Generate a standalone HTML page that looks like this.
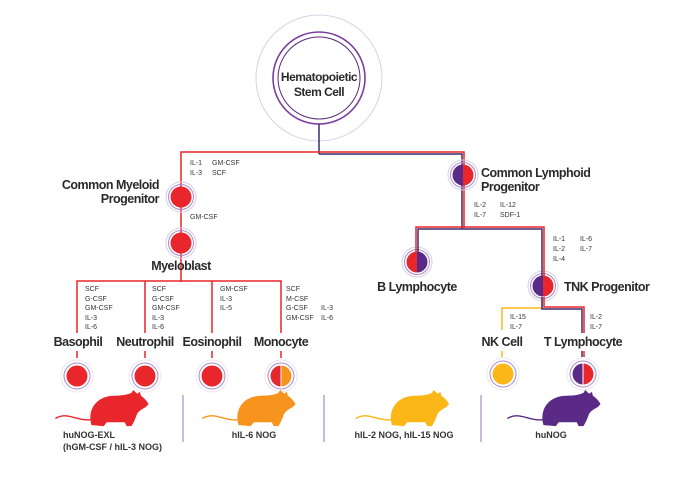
<!DOCTYPE html>
<html><head><meta charset="utf-8"><style>
html,body{margin:0;padding:0;background:#fff;}
svg{display:block;font-family:"Liberation Sans",sans-serif;}
.t{font-size:7px;fill:#333;}
.L{font-size:12.5px;font-weight:bold;fill:#2a2a2a;letter-spacing:-0.5px;}
.m{font-size:9px;font-weight:bold;fill:#333;}
</style></head><body>
<svg width="696" height="477" viewBox="0 0 696 477">
<defs>
<symbol id="mouse" viewBox="0 0 100 40">
<path d="M2,30 C15,22 25,34 42,31" fill="none" stroke="currentColor" stroke-width="1.5"/>
<path d="M40,37 C35,20 46,6 64,6 C72,6 78,5 82,3 L84,0 L88,4 L91,2 L92,6 C95,8 99,12 100,15 L97,18 C93,20 90,22 88,25 C86,31 84,35 82,38 L77,38 L75,34 L56,34 L53,38 Z" fill="currentColor"/>
</symbol>
</defs>
<circle cx="319" cy="78" r="63" fill="none" stroke="#d9cfe6" stroke-width="1"/>
<circle cx="319" cy="78" r="46" fill="none" stroke="#7b3fa0" stroke-width="1.6"/>
<circle cx="319" cy="78" r="41" fill="none" stroke="#5a2a78" stroke-width="1"/>
<text x="319" y="81" text-anchor="middle" style="font-size:12px;font-weight:bold;fill:#2a2a2a;letter-spacing:-0.5px">Hematopoietic</text>
<text x="319" y="96" text-anchor="middle" style="font-size:12px;font-weight:bold;fill:#2a2a2a;letter-spacing:-0.5px">Stem Cell</text>
<line x1="319" y1="124" x2="319" y2="154" stroke="#3c2a6e" stroke-width="1.5"/>
<polyline points="181,196 181,152 464,152 464,175" fill="none" stroke="#e8262b" stroke-width="1.5"/>
<polyline points="319,154 462,154 462,229" fill="none" stroke="#3c2a6e" stroke-width="1.5"/>
<line x1="464" y1="175" x2="464" y2="228" stroke="#e8262b" stroke-width="1.5"/>
<text class="t" x="190" y="165">IL-1</text><text class="t" x="212" y="165">GM-CSF</text>
<text class="t" x="190" y="175">IL-3</text><text class="t" x="212" y="175">SCF</text>
<line x1="181" y1="196" x2="181" y2="282" stroke="#e8262b" stroke-width="1.5"/>
<g fill="none" stroke="#d8cde6"><circle cx="181" cy="197" r="15"/><circle cx="181" cy="243" r="15"/></g>
<g fill="none" stroke="#a98bc8"><circle cx="181" cy="197" r="12.5"/><circle cx="181" cy="243" r="12.5"/></g>
<circle cx="181" cy="197" r="10.5" fill="#e8262b"/><circle cx="181" cy="243" r="10.5" fill="#e8262b"/>
<text class="L" x="159" y="189" text-anchor="end">Common Myeloid</text>
<text class="L" x="159" y="203" text-anchor="end">Progenitor</text>
<text class="t" x="190" y="219">GM-CSF</text>
<text class="L" x="181" y="270" text-anchor="middle">Myeloblast</text>
<polyline points="77,333 77,281 281,281 281,333" fill="none" stroke="#e8262b" stroke-width="1.5"/>
<line x1="145" y1="281" x2="145" y2="333" stroke="#e8262b" stroke-width="1.5"/>
<line x1="212" y1="281" x2="212" y2="333" stroke="#e8262b" stroke-width="1.5"/>
<g class="t">
<text x="85" y="291">SCF</text><text x="85" y="301">G-CSF</text><text x="85" y="310">GM-CSF</text><text x="85" y="320">IL-3</text><text x="85" y="329">IL-6</text>
<text x="152" y="291">SCF</text><text x="152" y="301">G-CSF</text><text x="152" y="310">GM-CSF</text><text x="152" y="320">IL-3</text><text x="152" y="329">IL-6</text>
<text x="220" y="291">GM-CSF</text><text x="220" y="301">IL-3</text><text x="220" y="310">IL-5</text>
<text x="286" y="291">SCF</text><text x="286" y="301">M-CSF</text><text x="286" y="310">G-CSF</text><text x="286" y="320">GM-CSF</text>
<text x="321" y="310">IL-3</text><text x="321" y="320">IL-6</text>
</g>
<text class="L" x="78" y="346" text-anchor="middle">Basophil</text>
<text class="L" x="145" y="346" text-anchor="middle">Neutrophil</text>
<text class="L" x="212" y="346" text-anchor="middle">Eosinophil</text>
<text class="L" x="281" y="346" text-anchor="middle">Monocyte</text>
<g stroke="#e8262b" stroke-width="1.5"><line x1="77" y1="351" x2="77" y2="358"/><line x1="145" y1="351" x2="145" y2="358"/><line x1="212" y1="351" x2="212" y2="358"/><line x1="281" y1="351" x2="281" y2="358"/></g>
<g fill="none" stroke="#ece4f2"><circle cx="77" cy="376" r="16"/><circle cx="145" cy="376" r="16"/><circle cx="212" cy="376" r="16"/><circle cx="281" cy="376" r="16"/><circle cx="503" cy="374" r="16"/><circle cx="583" cy="374" r="16"/></g>
<g fill="none" stroke="#a98bc8"><circle cx="77" cy="376" r="13"/><circle cx="145" cy="376" r="13"/><circle cx="212" cy="376" r="13"/><circle cx="281" cy="376" r="13"/><circle cx="503" cy="374" r="13"/><circle cx="583" cy="374" r="13"/></g>
<circle cx="77" cy="376" r="10.5" fill="#e8262b"/><circle cx="145" cy="376" r="10.5" fill="#e8262b"/><circle cx="212" cy="376" r="10.5" fill="#e8262b"/>
<path d="M281,365.5 A10.5,10.5 0 0 0 281,386.5 Z" fill="#e8262b"/><path d="M281,365.5 A10.5,10.5 0 0 1 281,386.5 Z" fill="#f7941d"/>
<line x1="281" y1="365" x2="281" y2="387" stroke="#fff" stroke-width="1"/>
<g fill="none" stroke="#d8cde6"><circle cx="463" cy="175" r="15"/><circle cx="417" cy="262" r="15"/><circle cx="543" cy="286" r="15"/></g>
<g fill="none" stroke="#a98bc8"><circle cx="463" cy="175" r="12.5"/><circle cx="417" cy="262" r="12.5"/><circle cx="543" cy="286" r="12.5"/></g>
<path d="M463,164.5 A10.5,10.5 0 0 0 463,185.5 Z" fill="#5b2a86"/><path d="M463,164.5 A10.5,10.5 0 0 1 463,185.5 Z" fill="#e8262b"/>
<text class="L" x="481" y="177">Common Lymphoid</text>
<text class="L" x="481" y="191">Progenitor</text>
<text class="t" x="474" y="207">IL-2</text><text class="t" x="500" y="207">IL-12</text>
<text class="t" x="474" y="217">IL-7</text><text class="t" x="500" y="217">SDF-1</text>
<polyline points="416,262 416,227 544,227 544,286" fill="none" stroke="#e8262b" stroke-width="1.5"/>
<polyline points="418,262 418,229 542,229 542,286" fill="none" stroke="#3c2a6e" stroke-width="1.5"/>
<path d="M417,251.5 A10.5,10.5 0 0 0 417,272.5 Z" fill="#e8262b"/><path d="M417,251.5 A10.5,10.5 0 0 1 417,272.5 Z" fill="#5b2a86"/>
<text class="L" x="417" y="291" text-anchor="middle">B Lymphocyte</text>
<text class="t" x="553" y="241">IL-1</text><text class="t" x="580" y="241">IL-6</text>
<text class="t" x="553" y="251">IL-2</text><text class="t" x="580" y="251">IL-7</text>
<text class="t" x="553" y="261">IL-4</text>
<path d="M543,275.5 A10.5,10.5 0 0 0 543,296.5 Z" fill="#5b2a86"/><path d="M543,275.5 A10.5,10.5 0 0 1 543,296.5 Z" fill="#e8262b"/>
<text class="L" x="564" y="291">TNK Progenitor</text>
<polyline points="542,297 542,308 502,308 502,330" fill="none" stroke="#fbb617" stroke-width="1.5"/>
<polyline points="544,297 544,307 584,307 584,333" fill="none" stroke="#e8262b" stroke-width="1.5"/>
<polyline points="542,297 542,309 582,309 582,333" fill="none" stroke="#3c2a6e" stroke-width="1.5"/>
<text class="t" x="510" y="319">IL-15</text><text class="t" x="510" y="329">IL-7</text>
<text class="t" x="590" y="319">IL-2</text><text class="t" x="590" y="329">IL-7</text>
<text class="L" x="502" y="346" text-anchor="middle">NK Cell</text>
<text class="L" x="583" y="346" text-anchor="middle">T Lymphocyte</text>
<line x1="502" y1="351" x2="502" y2="357" stroke="#fbb617" stroke-width="1.5"/>
<line x1="582" y1="351" x2="582" y2="357" stroke="#3c2a6e" stroke-width="1.5"/><line x1="584" y1="351" x2="584" y2="357" stroke="#e8262b" stroke-width="1.5"/>
<circle cx="503" cy="374" r="10.5" fill="#fbb617"/>
<path d="M583,363.5 A10.5,10.5 0 0 0 583,384.5 Z" fill="#5b2a86"/><path d="M583,363.5 A10.5,10.5 0 0 1 583,384.5 Z" fill="#e8262b"/>
<line x1="583" y1="363" x2="583" y2="385" stroke="#fff" stroke-width="1"/>
<g stroke="#a98bc8" stroke-width="1.2"><line x1="183" y1="395" x2="183" y2="442"/><line x1="324" y1="395" x2="324" y2="442"/><line x1="481" y1="395" x2="481" y2="442"/></g>
<use href="#mouse" x="50" y="390" width="102" height="38" style="color:#e8262b"/>
<use href="#mouse" x="194" y="390" width="108" height="38" style="color:#f7941d"/>
<use href="#mouse" x="349" y="390" width="105" height="38" style="color:#fbb617"/>
<use href="#mouse" x="503" y="390" width="100" height="38" style="color:#5b2a86"/>
<text class="m" x="63" y="438">huNOG-EXL</text>
<text class="m" x="63" y="450">(hGM-CSF / hIL-3 NOG)</text>
<text class="m" x="254" y="438" text-anchor="middle">hIL-6 NOG</text>
<text class="m" x="404" y="438" text-anchor="middle">hIL-2 NOG, hIL-15 NOG</text>
<text class="m" x="551" y="438" text-anchor="middle">huNOG</text>
</svg>
</body></html>
